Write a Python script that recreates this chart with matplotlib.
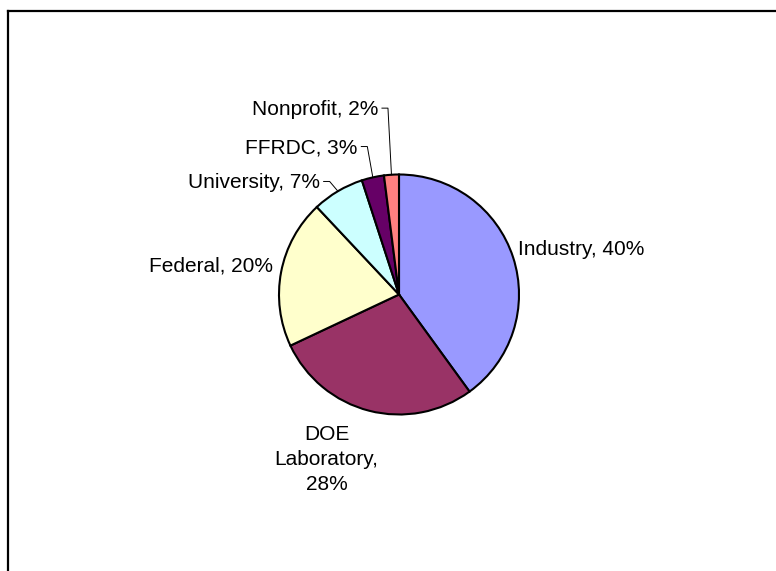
import numpy as np
import matplotlib
matplotlib.use("Agg")
import matplotlib.pyplot as plt
from matplotlib.lines import Line2D

names = ["Industry", "DOE Laboratory", "Federal", "University", "FFRDC", "Nonprofit"]
shares = [40, 28, 20, 7, 3, 2]
colors = ["#9999FF", "#993366", "#FFFFCC", "#CCFFFF", "#660066", "#FF8080"]

# label anchor (x, y, ha) in pie-radius units, and whether a leader line is drawn
label_pos = [(0.994, 0.379, "left"), (-0.604, -1.375, "center"), (-1.047, 0.238, "right"),
             (-0.658, 0.932, "right"), (-0.344, 1.223, "right"), (-0.172, 1.543, "right")]
leaders = [False, False, False, True, True, True]

plt.rcParams["font.family"] = ["Liberation Sans", "DejaVu Sans"]

fig = plt.figure(figsize=(7.76, 5.71), dpi=100)
ax = fig.add_axes([(399 - 120) / 776, (571 - 294.5 - 120) / 571, 240 / 776, 240 / 571])

wedges, _ = ax.pie(shares, colors=colors, startangle=90, counterclock=False,
                   wedgeprops=dict(edgecolor="black", linewidth=1.5))
ax.set_xlim(-1, 1)
ax.set_ylim(-1, 1)
ax.set_aspect("auto")
ax.axis("off")

for i, w in enumerate(wedges):
    x, y, ha = label_pos[i]
    if names[i] == "DOE Laboratory":
        txt = "DOE\nLaboratory,\n%d%%" % shares[i]
    else:
        txt = "%s, %d%%" % (names[i], shares[i])
    ax.text(x, y, txt, ha=ha, va="center", fontsize=15, multialignment="center",
            linespacing=1.42, clip_on=False)
    if leaders[i]:
        mid = np.deg2rad((w.theta1 + w.theta2) / 2)
        px, py = np.cos(mid), np.sin(mid)
        ax.plot([x + 0.03, x + 0.08, px], [y + 0.01, y + 0.01, py],
                color="black", linewidth=0.7, clip_on=False)

# outer frame (top and left edges visible)
fig.add_artist(Line2D([8 / 776, 1.0], [1 - 11 / 571, 1 - 11 / 571], color="black", linewidth=1.6))
fig.add_artist(Line2D([8 / 776, 8 / 776], [0.0, 1 - 11 / 571], color="black", linewidth=1.6))

fig.savefig("out.png", dpi=100)
